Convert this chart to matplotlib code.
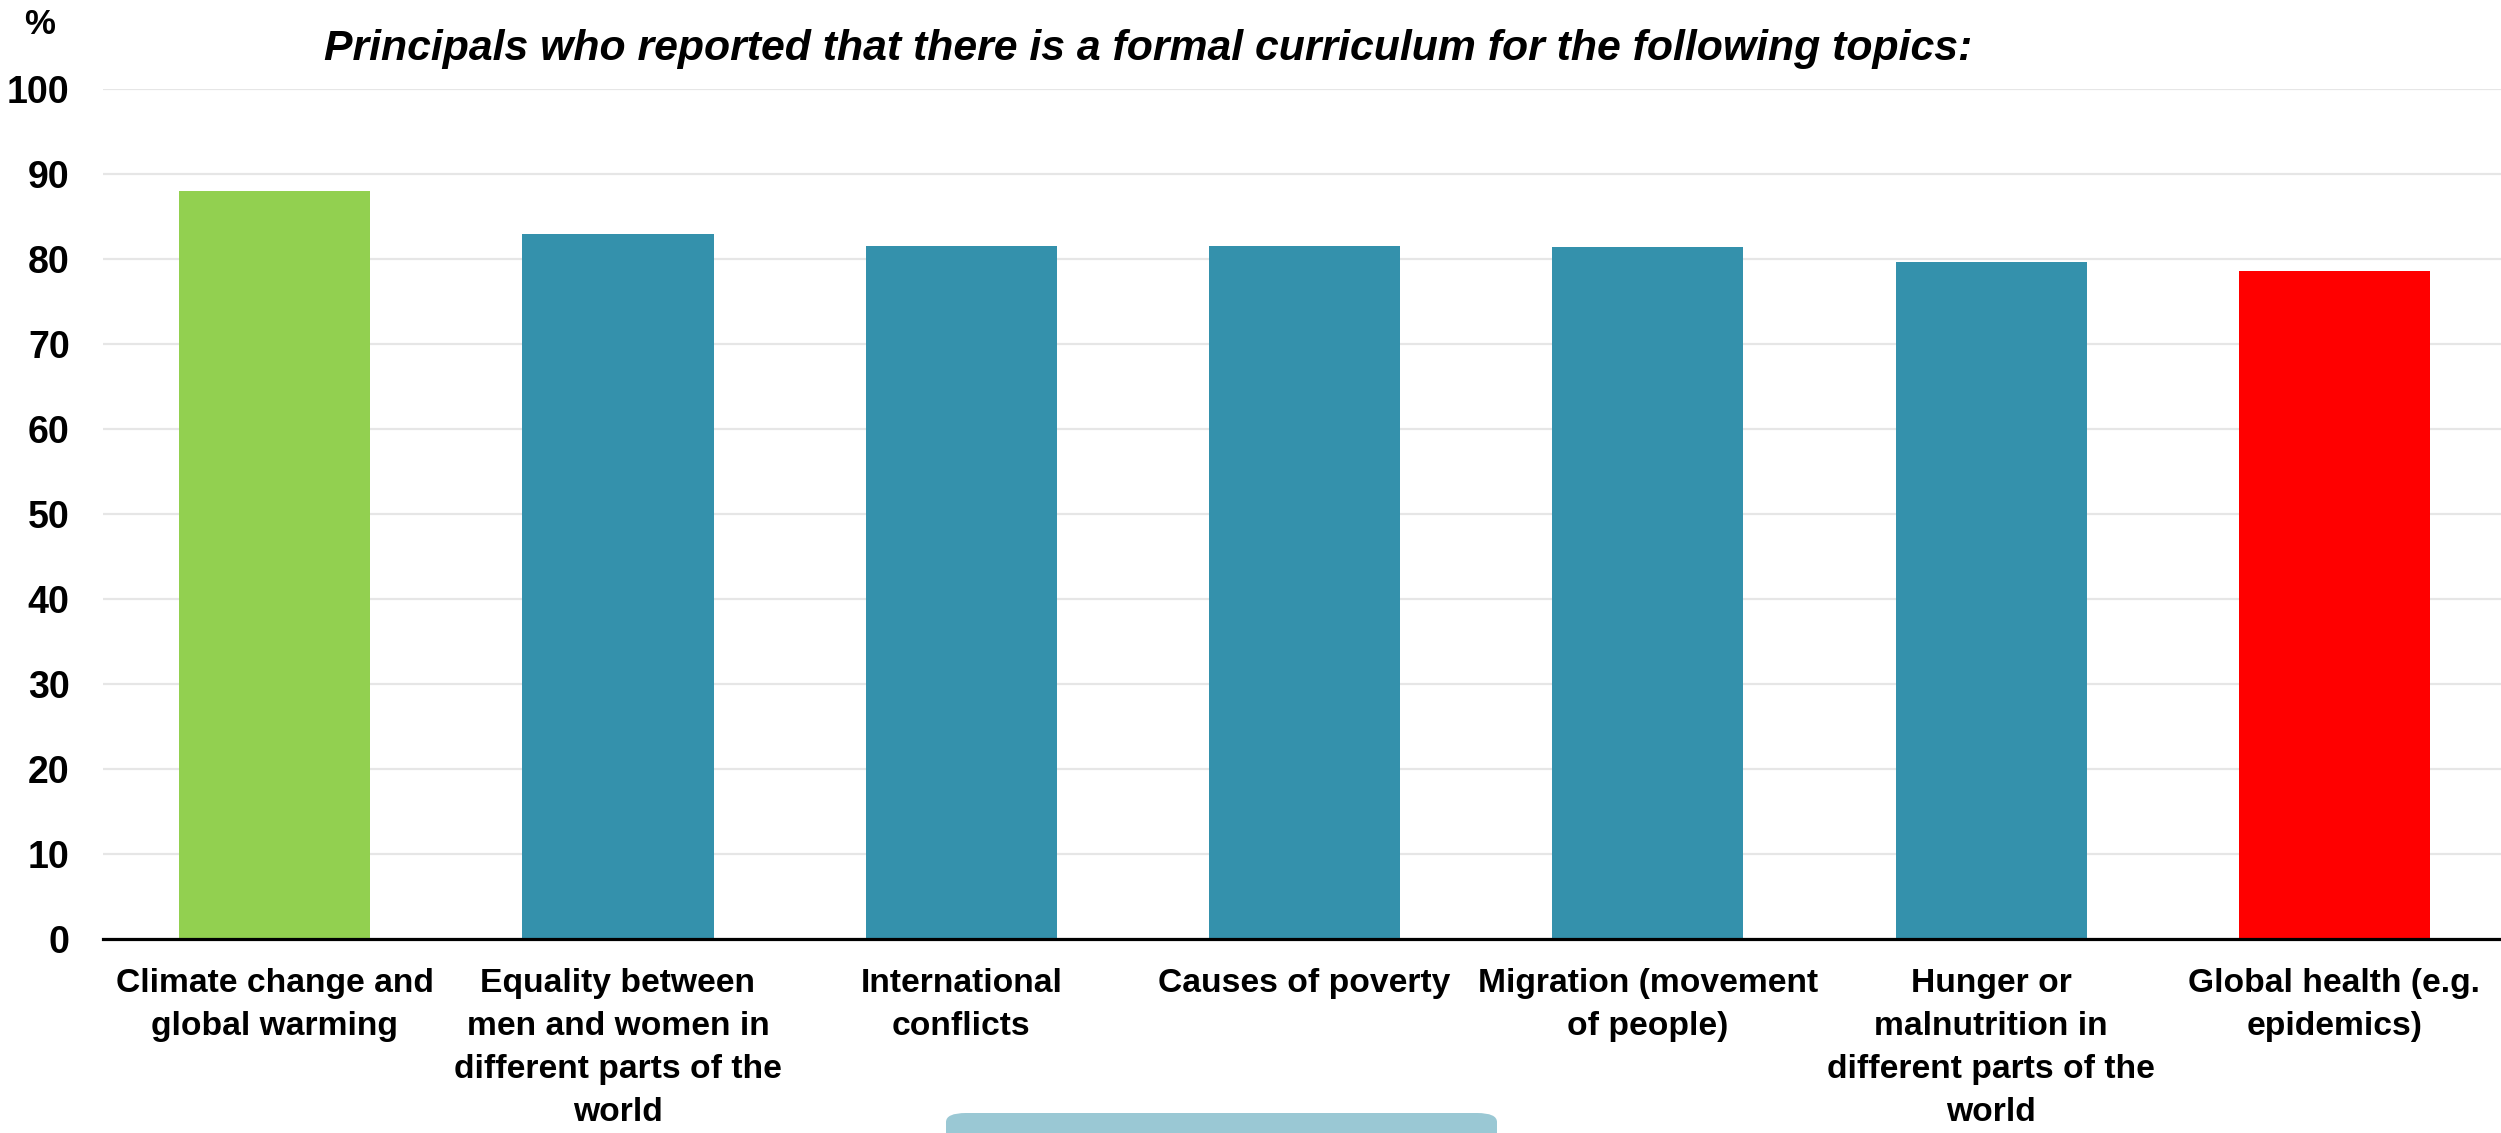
import numpy as np
import matplotlib.pyplot as plt
from matplotlib.patches import FancyBboxPatch

# ---------- Datos ----------
topics = [
    "Climate change and\nglobal warming",
    "Equality between\nmen and women in\ndifferent parts of the\nworld",
    "International\nconflicts",
    "Causes of poverty",
    "Migration (movement\nof people)",
    "Hunger or\nmalnutrition in\ndifferent parts of the\nworld",
    "Global health (e.g.\nepidemics)",
]
pct = [88.0, 82.9, 81.5, 81.5, 81.4, 79.6, 78.6]
bar_colors = ["#92D050", "#3491AC", "#3491AC", "#3491AC", "#3491AC", "#3491AC", "#FF0000"]
yticks = list(range(0, 101, 10))
title = "Principals who reported that there is a formal curriculum for the following topics:"

W, H = 2501, 1133
fig = plt.figure(figsize=(W / 100, H / 100), dpi=100)
ax = fig.add_axes([103 / W, (H - 939) / H, (2501 - 103) / W, 850 / H])

x = np.arange(len(topics))
ax.bar(x, pct, width=0.557, color=bar_colors, zorder=3)

ax.set_xlim(-0.5, 6.485)
ax.set_ylim(0, 100)
ax.set_yticks(yticks)
ax.set_yticklabels([str(v) for v in yticks], fontsize=27, fontweight="bold",
                   family=["Liberation Sans", "DejaVu Sans"])
ax.set_xticks(x)
ax.set_xticklabels(topics, fontsize=24.2, fontweight="bold", linespacing=1.5,
                   family=["Liberation Sans Narrow", "Liberation Sans", "DejaVu Sans"])
ax.tick_params(axis="y", length=0, pad=24)
ax.tick_params(axis="x", length=0, pad=21)

ax.grid(axis="y", color="#E6E6E6", linewidth=1.6, zorder=0)
for s in ["top", "right", "left"]:
    ax.spines[s].set_visible(False)
ax.spines["bottom"].set_linewidth(2.3)
ax.spines["bottom"].set_zorder(4)

fig.text(40 / W, 1 - 34 / H, "%", fontsize=25, fontweight="bold",
         family=["Liberation Sans", "DejaVu Sans"], ha="center", va="baseline")
fig.text(324 / W, 1 - 60 / H, title, fontsize=30.8, fontweight="bold", style="italic",
         family=["Liberation Sans", "DejaVu Sans"], ha="left", va="baseline")

# caja inferior (cortada)
box = FancyBboxPatch((946 / W, -0.02), (1497 - 946) / W, (1133 - 1113) / H + 0.02,
                     boxstyle="round,pad=0,rounding_size=0.008",
                     transform=fig.transFigure, facecolor="#9AC8D4", edgecolor="none")
fig.patches.append(box)

fig.savefig("out.png", dpi=100)
